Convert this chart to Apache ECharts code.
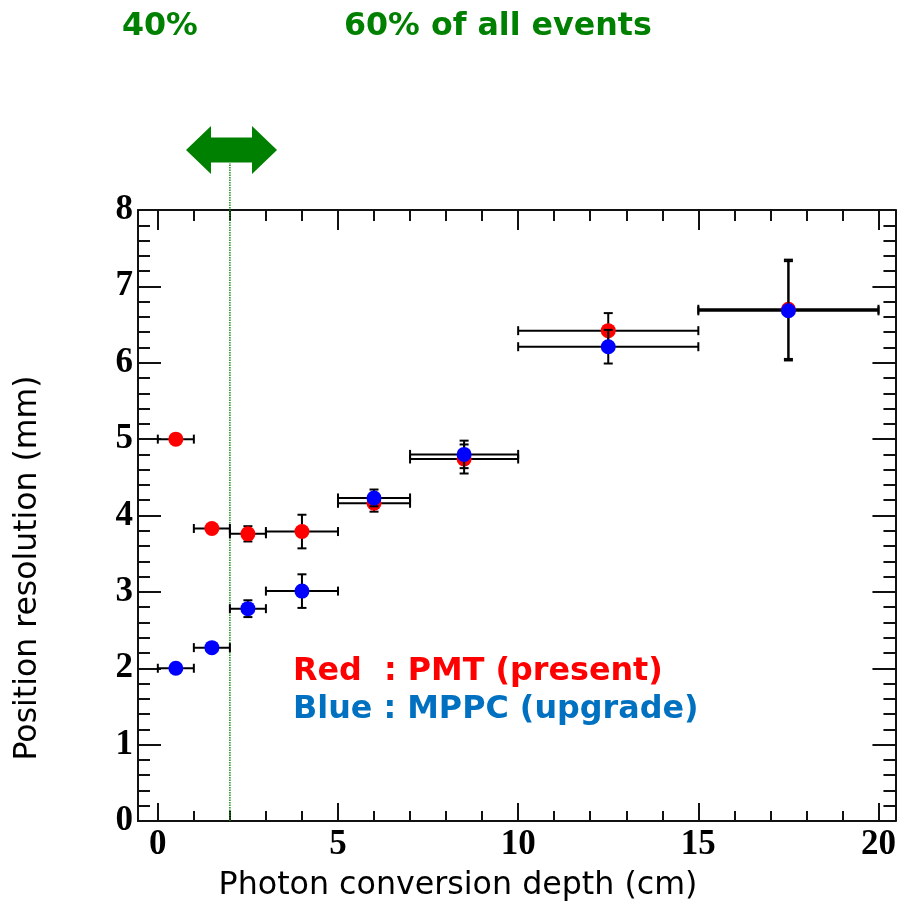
<!DOCTYPE html>
<html><head><meta charset="utf-8">
<script src="https://cdn.jsdelivr.net/npm/echarts@6/dist/echarts.min.js"></script>
<style>html,body{margin:0;padding:0;background:#fff}#c{width:899px;height:901px}</style>
</head><body><div id="c"></div>
<script>
// ---- data ----
const xCenters    = [0.5, 1.5, 2.5, 4, 6, 8.5, 12.5, 17.5];
const xHalfWidths = [0.5, 0.5, 0.5, 1, 1, 1.5, 2.5, 2.5];
const pmtValues   = [5.00, 3.83, 3.76, 3.79, 4.16, 4.74, 6.42, 6.70];
const pmtErrors   = [0, 0, 0.10, 0.22, 0.11, 0.19, 0.23, 0.65];
const mppcValues  = [2.00, 2.27, 2.78, 3.01, 4.23, 4.80, 6.21, 6.68];
const mppcErrors  = [0, 0, 0.11, 0.22, 0.11, 0.18, 0.22, 0.65];
const xMajorTicks = [0, 5, 10, 15, 20];
const xMinorTicks = [1,2,3,4,6,7,8,9,11,12,13,14,16,17,18,19];
const boundaryX   = 2;
const topLabels   = ['40%', '60% of all events'];
const legendLabels = ['Red  : PMT (present)', 'Blue : MPPC (upgrade)'];
const xTitle = 'Photon conversion depth (cm)';
const yTitle = 'Position resolution (mm)';

const chart = echarts.init(document.getElementById('c'), null, {renderer: 'canvas'});
const X_MIN = -0.55, X_MAX = 20.47;
const AX = '#111';

function rows(vals, errs) {
  return xCenters.map((x, i) => [x, vals[i], xHalfWidths[i], errs[i]]);
}
function errRender(params, api) {
  const x = api.value(0), y = api.value(1), hw = api.value(2), e = api.value(3);
  const pL = api.coord([x - hw, y]), pR = api.coord([x + hw, y]);
  const st = {stroke: '#000', lineWidth: 2};
  const c = 4.5;
  const ch = [
    {type: 'line', shape: {x1: pL[0], y1: pL[1], x2: pR[0], y2: pR[1]}, style: st},
    {type: 'line', shape: {x1: pL[0], y1: pL[1] - c, x2: pL[0], y2: pL[1] + c}, style: st},
    {type: 'line', shape: {x1: pR[0], y1: pR[1] - c, x2: pR[0], y2: pR[1] + c}, style: st}
  ];
  if (e > 0) {
    const pT = api.coord([x, y + e]), pB = api.coord([x, y - e]);
    ch.push({type: 'line', shape: {x1: pT[0], y1: pT[1], x2: pB[0], y2: pB[1]}, style: st});
    ch.push({type: 'line', shape: {x1: pT[0] - c, y1: pT[1], x2: pT[0] + c, y2: pT[1]}, style: st});
    ch.push({type: 'line', shape: {x1: pB[0] - c, y1: pB[1], x2: pB[0] + c, y2: pB[1]}, style: st});
  }
  return {type: 'group', children: ch};
}

const tickStyle = {color: AX, width: 2};
const baseX = {type: 'value', min: X_MIN, max: X_MAX, splitLine: {show: false}};
const labelFont = {fontFamily: 'Liberation Serif', fontWeight: 'bold', fontSize: 35, color: '#000'};
const option = {
  animation: false,
  backgroundColor: '#fff',
  grid: {left: 138, right: 0, top: 210, bottom: 80, containLabel: false},
  xAxis: [
    Object.assign({}, baseX, {position: 'bottom',
      axisLine: {show: true, onZero: false, lineStyle: {color: AX, width: 2}},
      axisTick: {show: true, inside: true, length: 18, customValues: xMajorTicks, lineStyle: tickStyle},
      axisLabel: Object.assign({show: true, customValues: xMajorTicks, margin: 6}, labelFont)}),
    Object.assign({}, baseX, {position: 'bottom',
      axisLine: {show: false, onZero: false},
      axisTick: {show: true, inside: true, length: 10, customValues: xMinorTicks, lineStyle: tickStyle},
      axisLabel: {show: false}}),
    Object.assign({}, baseX, {position: 'top',
      axisLine: {show: true, onZero: false, lineStyle: {color: AX, width: 2}},
      axisTick: {show: true, inside: true, length: 20, customValues: xMajorTicks, lineStyle: tickStyle},
      axisLabel: {show: false}}),
    Object.assign({}, baseX, {position: 'top',
      axisLine: {show: false, onZero: false},
      axisTick: {show: true, inside: true, length: 11, customValues: xMinorTicks, lineStyle: tickStyle},
      axisLabel: {show: false}})
  ],
  yAxis: [
    {type: 'value', min: 0, max: 8, interval: 1, position: 'left', splitLine: {show: false},
      axisLine: {show: true, onZero: false, lineStyle: {color: AX, width: 2}},
      axisTick: {show: true, inside: true, length: 23, lineStyle: tickStyle},
      minorTick: {show: true, splitNumber: 5, length: 12, lineStyle: tickStyle},
      axisLabel: Object.assign({margin: 5}, labelFont)},
    {type: 'value', min: 0, max: 8, interval: 1, position: 'right', splitLine: {show: false},
      axisLine: {show: true, onZero: false, lineStyle: {color: AX, width: 2}},
      axisTick: {show: true, inside: true, length: 23, lineStyle: tickStyle},
      minorTick: {show: true, splitNumber: 5, length: 12, lineStyle: tickStyle},
      axisLabel: {show: false}}
  ],
  series: [
    {type: 'custom', name: 'PMT err', renderItem: errRender, data: rows(pmtValues, pmtErrors), z: 2, silent: true},
    {type: 'scatter', name: 'PMT', data: xCenters.map((x, i) => [x, pmtValues[i]]), symbol: 'circle', symbolSize: 15,
      itemStyle: {color: '#ff0000', opacity: 1}, z: 3},
    {type: 'custom', name: 'MPPC err', renderItem: errRender, data: rows(mppcValues, mppcErrors), z: 4, silent: true},
    {type: 'scatter', name: 'MPPC', data: xCenters.map((x, i) => [x, mppcValues[i]]), symbol: 'circle', symbolSize: 15,
      itemStyle: {color: '#0000ff', opacity: 1}, z: 5}
  ]
};
chart.setOption(option);

// annotations
const b0 = chart.convertToPixel({xAxisIndex: 0, yAxisIndex: 0}, [boundaryX, 0]);
const acx = chart.convertToPixel({xAxisIndex: 0}, 2.045);
const acy = 150;
const hl = 45.5, head = 25, hh = 24, sh = 12.5;
const green = '#008000';
chart.setOption({
  graphic: [
    {type: 'line', shape: {x1: b0[0], y1: b0[1], x2: b0[0], y2: 163}, style: {stroke: '#1a8c1a', lineWidth: 1.5, lineDash: [1.5, 1]}, z: 1},
    {type: 'polygon', shape: {points: [
      [acx - hl, acy], [acx - hl + head, acy - hh], [acx - hl + head, acy - sh], [acx + hl - head, acy - sh],
      [acx + hl - head, acy - hh], [acx + hl, acy], [acx + hl - head, acy + hh], [acx + hl - head, acy + sh],
      [acx - hl + head, acy + sh], [acx - hl + head, acy + hh]]}, style: {fill: green}, z: 10},
    {type: 'text', left: 122, top: 11, style: {text: topLabels[0], font: 'bold 31.7px "DejaVu Sans"', fill: green}},
    {type: 'text', left: 344, top: 11, style: {text: topLabels[1], font: 'bold 31.7px "DejaVu Sans"', fill: green}},
    {type: 'text', left: 293, top: 656, style: {text: legendLabels[0], font: 'bold 31.8px "DejaVu Sans"', fill: '#ff0000'}, z: 20},
    {type: 'text', left: 293, top: 694, style: {text: legendLabels[1], font: 'bold 31.8px "DejaVu Sans"', fill: '#0070c0'}, z: 20},
    {type: 'text', x: 458, y: 886, style: {text: xTitle, font: '31.7px "DejaVu Sans"', fill: '#000', align: 'center', verticalAlign: 'middle'}},
    {type: 'text', x: 28, y: 568, rotation: Math.PI / 2, style: {text: yTitle, font: '31.5px "DejaVu Sans"', fill: '#000', align: 'center', verticalAlign: 'middle'}}
  ]
});
</script>
</body></html>
